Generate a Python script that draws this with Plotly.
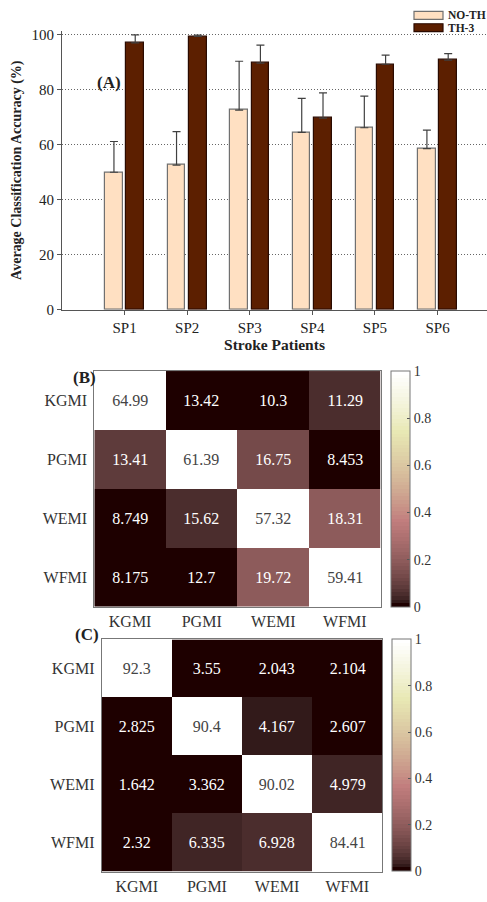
import numpy as np
import plotly.graph_objects as go

# ---------------- data ----------------
patients = ["SP1", "SP2", "SP3", "SP4", "SP5", "SP6"]
series_names = ["NO-TH", "TH-3"]
no_th = [50.0, 52.6, 72.6, 64.5, 66.2, 58.6]
no_th_err = [11.2, 12.2, 17.8, 12.4, 11.5, 6.7]
th3 = [97.1, 99.4, 89.7, 69.7, 89.3, 90.8]
th3_err = [2.9, 0.5, 6.6, 9.2, 3.3, 2.4]
y_ticks = [0, 20, 40, 60, 80, 100]

classes = ["KGMI", "PGMI", "WEMI", "WFMI"]
conf_b = [
    [64.99, 13.42, 10.3, 11.29],
    [13.41, 61.39, 16.75, 8.453],
    [8.749, 15.62, 57.32, 18.31],
    [8.175, 12.7, 19.72, 59.41],
]
conf_c = [
    [92.3, 3.55, 2.043, 2.104],
    [2.825, 90.4, 4.167, 2.607],
    [1.642, 3.362, 90.02, 4.979],
    [2.32, 6.335, 6.928, 84.41],
]
cbar_ticks = [0, 0.2, 0.4, 0.6, 0.8, 1]

# ---------------- helpers ----------------
def pink_scale(m=64):
    """MATLAB-style 'pink' colormap as a stepped Plotly colorscale."""
    n = int(3 / 8 * m)
    r = np.concatenate([np.arange(1, n + 1) / n, np.ones(m - n)])
    g = np.concatenate([np.zeros(n), np.arange(1, n + 1) / n, np.ones(m - 2 * n)])
    b = np.concatenate([np.zeros(2 * n), np.arange(1, m - 2 * n + 1) / (m - 2 * n)])
    gray = np.arange(m) / (m - 1)
    cols = np.sqrt((2 * gray[:, None] + np.stack([r, g, b], 1)) / 3)
    scale = []
    for i, c in enumerate(cols):
        rgb = "rgb(%d,%d,%d)" % tuple((c * 255).round().astype(int))
        scale.append([i / m, rgb])
        scale.append([(i + 1) / m, rgb])
    return scale


def col_norm(mat):
    a = np.array(mat, dtype=float)
    mn = a.min(axis=0)
    mx = a.max(axis=0)
    return (a - mn) / (mx - mn)


def fmt(mat):
    return [[f"{v:.4g}" for v in row] for row in mat]


W, H = 487, 902
FONT = "Liberation Serif"
PINK = pink_scale()
FILL_A, EDGE_A = "#FFE0C2", "#707070"
FILL_B, EDGE_B = "#5C1F00", "#2A0A00"

fig = go.Figure()

xpos = list(range(1, len(patients) + 1))
fig.add_trace(go.Bar(
    x=xpos, y=no_th, name=series_names[0], width=0.28, offset=-0.31,
    marker=dict(color=FILL_A, line=dict(color=EDGE_A, width=1.2)),
    error_y=dict(type="data", array=no_th_err, arrayminus=[0] * 6, symmetric=False,
                 color="#404040", thickness=1.2, width=4),
    xaxis="x", yaxis="y", showlegend=False,
))
fig.add_trace(go.Bar(
    x=xpos, y=th3, name=series_names[1], width=0.28, offset=0.03,
    marker=dict(color=FILL_B, line=dict(color=EDGE_B, width=1.2)),
    error_y=dict(type="data", array=th3_err, arrayminus=[0] * 6, symmetric=False,
                 color="#404040", thickness=1.2, width=4),
    xaxis="x", yaxis="y", showlegend=False,
))

cb_common = dict(lenmode="fraction", thickness=19, thicknessmode="pixels",
                 outlinecolor="#777", outlinewidth=1, tickvals=cbar_ticks,
                 ticktext=[f"{t:g}" for t in cbar_ticks], ticks="inside", ticklen=3,
                 tickcolor="#555", tickfont=dict(family=FONT, size=14, color="#333"),
                 xpad=0, ypad=0)

fig.add_trace(go.Heatmap(
    z=col_norm(conf_b), x=classes, y=classes, text=fmt(conf_b), texttemplate="%{text}",
    textfont=dict(family=FONT, size=16), colorscale=PINK, zmin=0, zmax=1,
    xaxis="x2", yaxis="y2", hoverinfo="skip",
    colorbar=dict(x=390.7 / W, xanchor="left", y=1 - 491.5 / H, yanchor="middle",
                  len=239 / H, **cb_common),
))
fig.add_trace(go.Heatmap(
    z=col_norm(conf_c), x=classes, y=classes, text=fmt(conf_c), texttemplate="%{text}",
    textfont=dict(family=FONT, size=16), colorscale=PINK, zmin=0, zmax=1,
    xaxis="x3", yaxis="y3", hoverinfo="skip",
    colorbar=dict(x=392 / W, xanchor="left", y=1 - 761.5 / H, yanchor="middle",
                  len=235 / H, **cb_common),
))

axis_font = dict(family=FONT, size=15, color="#222")
hm_font = dict(family=FONT, size=16, color="#333")

# manual legend (swatches + text)
shapes = []
legend_ann = []
for i, (nm, fc, ec) in enumerate([(series_names[0], FILL_A, EDGE_A), (series_names[1], FILL_B, EDGE_B)]):
    y0 = 7.5 + i * 12.5
    shapes.append(dict(type="rect", xref="paper", yref="paper",
                       x0=414 / W, x1=443 / W, y0=1 - (y0 + 8) / H, y1=1 - y0 / H,
                       fillcolor=fc, line=dict(color=ec, width=1.2)))
    legend_ann.append(dict(text=f"<b>{nm}</b>", x=447 / W, y=1 - (y0 + 4) / H,
                           xref="paper", yref="paper", xanchor="left", yanchor="middle",
                           showarrow=False, borderpad=0,
                           font=dict(family=FONT, size=11.5, color="#222")))

fig.update_layout(
    width=W, height=H, margin=dict(l=0, r=0, t=0, b=0),
    paper_bgcolor="white", plot_bgcolor="white",
    font=dict(family=FONT, color="#222"),
    barmode="overlay", bargap=0,
    showlegend=False,
    shapes=shapes,
    xaxis=dict(domain=[62 / W, 1.0], range=[0, 6.79], tickvals=xpos, ticktext=patients,
               showline=True, linecolor="#555", linewidth=1.2, ticks="outside",
               ticklen=4, tickcolor="#555", showgrid=False, zeroline=False,
               tickfont=axis_font, anchor="y",
               title=dict(text="<b>Stroke Patients</b>", font=dict(family=FONT, size=15.5, color="#222"),
                          standoff=4)),
    yaxis=dict(domain=[1 - 309.8 / H, 1 - 27.1 / H], range=[0, 101.5], tickvals=y_ticks,
               showline=True, linecolor="#555", linewidth=1.2, ticks="outside",
               ticklen=4, tickcolor="#555", showgrid=True, gridcolor="#666",
               griddash="1px,2px", gridwidth=1, zeroline=False, tickfont=axis_font, anchor="x",
               title=dict(text="<b>Average Classification Accuracy (%)</b>",
                          font=dict(family=FONT, size=14, color="#222"), standoff=6)),
    xaxis2=dict(domain=[94.3 / W, 380.7 / W], anchor="y2", showline=True, mirror=True,
                linecolor="#777", linewidth=1, tickfont=hm_font, ticks="", showgrid=False),
    yaxis2=dict(domain=[1 - 610.7 / H, 1 - 372 / H], anchor="x2", autorange="reversed",
                showline=True, mirror=True, linecolor="#777", linewidth=1,
                tickfont=hm_font, ticks="", showgrid=False, ticklabelstandoff=3),
    xaxis3=dict(domain=[101.7 / W, 382.3 / W], anchor="y3", showline=True, mirror=True,
                linecolor="#777", linewidth=1, tickfont=hm_font, ticks="", showgrid=False),
    yaxis3=dict(domain=[1 - 879.3 / H, 1 - 644 / H], anchor="x3", autorange="reversed",
                showline=True, mirror=True, linecolor="#777", linewidth=1,
                tickfont=hm_font, ticks="", showgrid=False, ticklabelstandoff=3),
    annotations=[
        dict(text="<b>(A)</b>", x=95 / W, y=1 - 68 / H, xref="paper", yref="paper",
             showarrow=False, font=dict(family=FONT, size=17, color="#222")),
        dict(text="<b>(B)</b>", x=71 / W, y=1 - 379 / H, xref="paper", yref="paper",
             showarrow=False, font=dict(family=FONT, size=17, color="#222")),
        dict(text="<b>(C)</b>", x=73 / W, y=1 - 651 / H, xref="paper", yref="paper",
             showarrow=False, font=dict(family=FONT, size=17, color="#222")),
    ] + legend_ann,
)

fig.write_html("out.html", config={"displayModeBar": False},
               post_script="document.body.style.margin='0px';document.body.style.overflow='hidden';")
